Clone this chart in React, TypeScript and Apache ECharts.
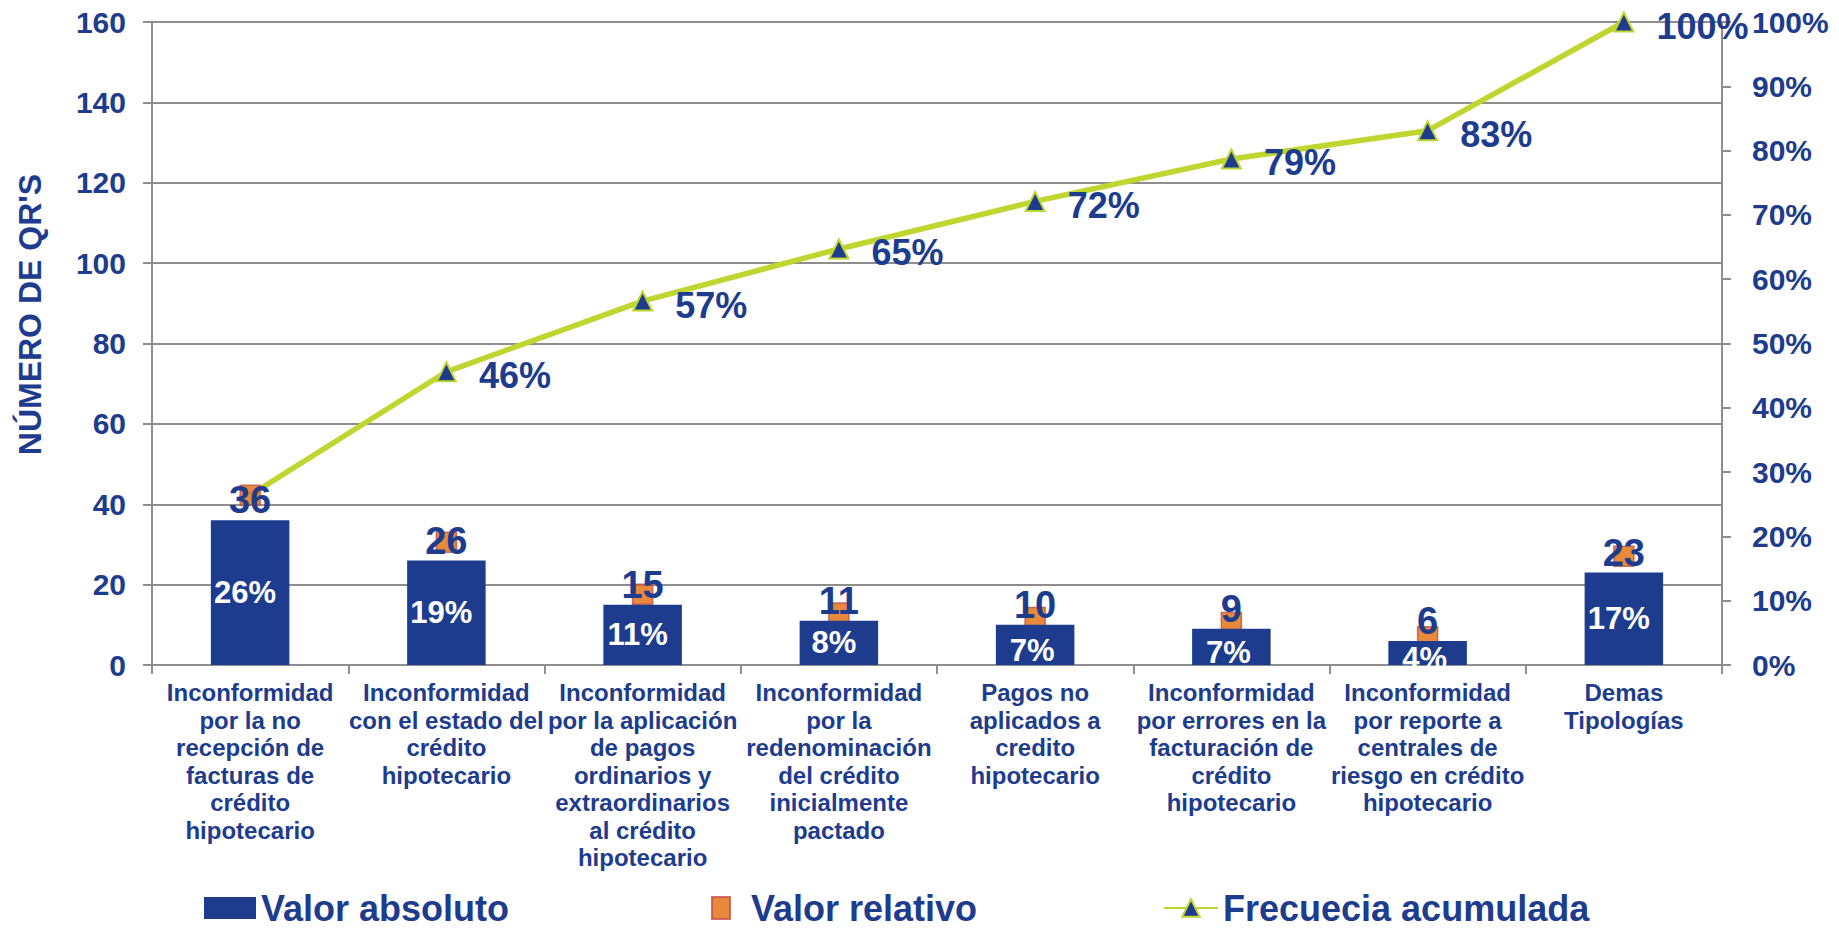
import React, { useEffect, useRef } from "react";
import * as echarts from "echarts";

const categories = [
  "Inconformidad\npor la no\nrecepción de\nfacturas de\ncrédito\nhipotecario",
  "Inconformidad\ncon el estado del\ncrédito\nhipotecario",
  "Inconformidad\npor la aplicación\nde pagos\nordinarios y\nextraordinarios\nal crédito\nhipotecario",
  "Inconformidad\npor la\nredenominación\ndel crédito\ninicialmente\npactado",
  "Pagos no\naplicados a\ncredito\nhipotecario",
  "Inconformidad\npor errores en la\nfacturación de\ncrédito\nhipotecario",
  "Inconformidad\npor reporte a\ncentrales de\nriesgo en crédito\nhipotecario",
  "Demas\nTipologías",
];
const absoluteValues = [36, 26, 15, 11, 10, 9, 6, 23];
const relativePct = [26.4, 19.1, 11.0, 8.1, 7.4, 6.6, 4.4, 16.9];
const cumulativePct = [26.4, 45.6, 56.6, 64.7, 72.1, 78.7, 83.1, 100];
const seriesNames = ["Valor absoluto", "Valor relativo", "Frecuecia acumulada"];
const yAxisName = "NÚMERO DE QR'S";

const BLUE = "#1d3c8e";
const GREEN = "#bed62f";
const ORANGE = "#e46c0a";
const GRAY = "#8e8e8e";
const FONT = "'Liberation Sans', Arial, sans-serif";

export default function App() {
  const ref = useRef<HTMLDivElement>(null);
  useEffect(() => {
    if (!ref.current) return;
    const chart = echarts.init(ref.current, undefined, { renderer: "svg" });
    const legendText = { color: BLUE, fontSize: 36, fontWeight: "bold", fontFamily: FONT };
    chart.setOption({
      animation: false,
      textStyle: { fontFamily: FONT },
      grid: { left: 152, right: 117, top: 22, bottom: 265, containLabel: false },
      legend: [
        {
          data: [seriesNames[0]], left: 199, top: 885, itemWidth: 52, itemHeight: 22,
          icon: "rect", itemGap: 0, textStyle: legendText, selectedMode: false,
        },
        {
          data: [seriesNames[1]], left: 706, top: 885, itemWidth: 18, itemHeight: 22,
          icon: "rect", textStyle: { ...legendText, padding: [0, 0, 0, 16] }, selectedMode: false,
        },
        {
          data: [seriesNames[2]], left: 1158, top: 885, itemWidth: 54, itemHeight: 22,
          textStyle: legendText, selectedMode: false,
        },
      ],
      xAxis: {
        type: "category",
        data: categories,
        axisLine: { lineStyle: { color: GRAY, width: 2 } },
        axisTick: { show: true, length: 9, lineStyle: { color: GRAY, width: 2 } },
        axisLabel: {
          interval: 0, color: BLUE, fontSize: 24, fontWeight: "bold", lineHeight: 27.5,
          margin: 14, fontFamily: FONT,
        },
      },
      yAxis: [
        {
          type: "value", min: 0, max: 160, interval: 20,
          name: yAxisName, nameLocation: "middle", nameGap: 106,
          nameTextStyle: {
            color: BLUE, fontSize: 32, fontWeight: "bold", fontFamily: FONT,
            padding: [0, 0, 0, 58],
          },
          axisLine: { show: true, lineStyle: { color: GRAY, width: 2 } },
          axisTick: { show: true, length: 9, lineStyle: { color: GRAY, width: 2 } },
          axisLabel: { color: BLUE, fontSize: 30, fontWeight: "bold", margin: 26, fontFamily: FONT },
          splitLine: { lineStyle: { color: GRAY, width: 2 } },
        },
        {
          type: "value", min: 0, max: 100, interval: 10, position: "right",
          axisLine: { show: true, lineStyle: { color: GRAY, width: 2 } },
          axisTick: { show: true, length: 9, lineStyle: { color: GRAY, width: 2 } },
          axisLabel: { color: BLUE, fontSize: 30, fontWeight: "bold", margin: 30, formatter: "{value}%", fontFamily: FONT },
          splitLine: { show: false },
        },
      ],
      series: [
        {
          name: seriesNames[0], type: "bar", data: absoluteValues, barWidth: "40%", z: 4,
          itemStyle: { color: BLUE },
          label: {
            show: true, position: "top", distance: 1, color: BLUE, fontSize: 38,
            fontWeight: "bold", fontFamily: FONT,
          },
        },
        {
          name: "pct", type: "bar", barWidth: "40%", barGap: "-100%", z: 4,
          data: absoluteValues.map((v) =>
            v <= 10 ? { value: v, label: { offset: [-3, 6] } } : v
          ),
          itemStyle: { color: "rgba(0,0,0,0)" },
          label: {
            show: true, position: "inside", color: "#ffffff", fontSize: 31, fontWeight: "bold",
            fontFamily: FONT, offset: [-5, 0],
            formatter: (p: any) => Math.round(relativePct[p.dataIndex]) + "%",
          },
        },
        {
          name: seriesNames[2], type: "line", yAxisIndex: 1, z: 2,
          data: cumulativePct.map((v, i) =>
            i === 0 ? { value: v, symbol: "none", label: { show: false } } : v
          ),
          symbol: "triangle", symbolSize: 19,
          lineStyle: { color: GREEN, width: 5.5 },
          itemStyle: { color: BLUE, borderColor: GREEN, borderWidth: 2 },
          label: {
            show: true, position: "right", distance: 22, offset: [0, 4], color: BLUE,
            fontSize: 36, fontWeight: "bold", fontFamily: FONT,
            formatter: (p: any) => Math.round(p.value) + "%",
          },
        },
        {
          name: seriesNames[1], type: "scatter", yAxisIndex: 1, z: 3,
          data: relativePct, symbol: "rect", symbolSize: 20,
          itemStyle: { color: ORANGE, borderColor: "#c0504d", borderWidth: 1.5 },
        },
      ],
    });
    return () => chart.dispose();
  }, []);
  return (
    <div
      ref={ref}
      style={{ position: "fixed", left: 0, top: 0, width: 1839, height: 930, background: "#fff" }}
    />
  );
}
